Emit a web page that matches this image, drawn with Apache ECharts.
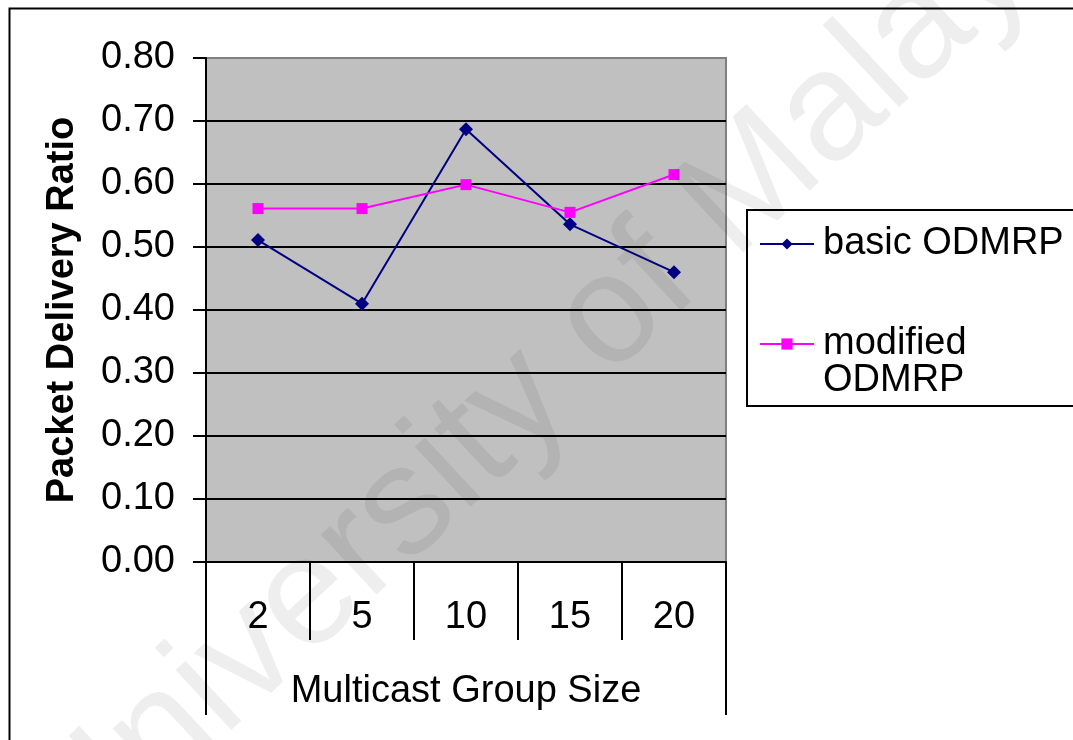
<!DOCTYPE html>
<html>
<head>
<meta charset="utf-8">
<script src="https://cdn.jsdelivr.net/npm/echarts@6/dist/echarts.min.js"></script>
<style>
  html, body { margin: 0; padding: 0; background: #fff; }
  #chart { width: 1073px; height: 740px; }
</style>
</head>
<body>
<div id="chart"></div>
<script>
// group sizes on the x axis
const groupSizes = ['2', '5', '10', '15', '20']
// packet delivery ratio per group size
const basicOdmrp = [0.511, 0.410, 0.687, 0.536, 0.460]
const modifiedOdmrp = [0.561, 0.561, 0.599, 0.555, 0.615]

const FONT = '"Liberation Sans", Arial, sans-serif'
const BLACK = '#000'
const FS = 38

const chart = echarts.init(document.getElementById('chart'))

chart.setOption({
  backgroundColor: '#fff',
  animation: false,
  textStyle: { fontFamily: FONT },
  grid: {
    left: 206, top: 58, width: 520, height: 504,
    show: true,
    backgroundColor: '#C0C0C0',
    borderColor: '#808080',
    borderWidth: 2
  },
  legend: {
    orient: 'vertical',
    left: 747,
    top: 210,
    padding: [15, 60, 6, 12],
    itemGap: 25,
    itemWidth: 54,
    itemHeight: 14,
    borderColor: BLACK,
    borderWidth: 2,
    backgroundColor: '#fff',
    textStyle: { fontSize: FS, color: BLACK, fontFamily: FONT, lineHeight: 37, padding: [0, 0, 0, 4] },
    // blank first line keeps "modified" level with the legend marker
    formatter: (name) => name === 'modified ODMRP' ? ' \nmodified\nODMRP' : name,
    data: ['basic ODMRP', 'modified ODMRP']
  },
  xAxis: [
    {
      type: 'category',
      data: groupSizes,
      boundaryGap: true,
      axisLine: { show: true, lineStyle: { color: BLACK, width: 2 } },
      axisTick: { show: true, interval: 0, length: 78, lineStyle: { color: BLACK, width: 2 } },
      axisLabel: { fontSize: FS, color: BLACK, margin: 37, fontFamily: FONT, interval: 0 },
      splitLine: { show: false },
      name: 'Multicast Group Size',
      nameLocation: 'middle',
      nameGap: 111,
      nameTextStyle: { fontSize: FS, color: BLACK, fontFamily: FONT }
    },
    {
      // outer frame lines of the category table
      type: 'category',
      data: groupSizes,
      position: 'bottom',
      boundaryGap: true,
      axisLine: { show: false },
      axisTick: { show: true, interval: (i) => i === 0, length: 153, lineStyle: { color: BLACK, width: 2 } },
      axisLabel: { show: false },
      splitLine: { show: false }
    }
  ],
  yAxis: {
    type: 'value',
    min: 0,
    max: 0.8,
    interval: 0.1,
    axisLine: { show: true, lineStyle: { color: BLACK, width: 2 } },
    axisTick: { show: true, length: 13, lineStyle: { color: BLACK, width: 2 } },
    axisLabel: {
      fontSize: FS, color: BLACK, margin: 31, fontFamily: FONT,
      formatter: (v) => v.toFixed(2)
    },
    splitLine: { show: true, showMaxLine: false, lineStyle: { color: BLACK, width: 2 } },
    name: 'Packet Delivery Ratio',
    nameLocation: 'middle',
    nameRotate: 90,
    nameGap: 124,
    nameTextStyle: { fontSize: FS, fontWeight: 'bold', color: BLACK, fontFamily: FONT }
  },
  series: [
    {
      name: 'basic ODMRP',
      type: 'line',
      data: basicOdmrp,
      symbol: 'diamond',
      symbolSize: 14,
      color: '#000080',
      lineStyle: { color: '#000080', width: 2 },
      itemStyle: { color: '#000080' }
    },
    {
      name: 'modified ODMRP',
      type: 'line',
      data: modifiedOdmrp,
      symbol: 'rect',
      symbolSize: 11,
      color: '#FF00FF',
      lineStyle: { color: '#FF00FF', width: 2 },
      itemStyle: { color: '#FF00FF' }
    }
  ],
  graphic: [
    {
      type: 'rect',
      left: 7, top: 6,
      shape: { width: 1200, height: 1000 },
      style: { fill: 'none', stroke: BLACK, lineWidth: 2 },
      silent: true
    },
    {
      // watermark
      type: 'text',
      x: 560, y: 365,
      rotation: 43 * Math.PI / 180,
      z: 100,
      silent: true,
      style: {
        text: 'University of Malaya',
        fontSize: 155,
        fontFamily: FONT,
        fill: 'rgba(0,0,0,0.065)',
        align: 'center',
        verticalAlign: 'middle'
      }
    }
  ]
})
</script>
</body>
</html>
